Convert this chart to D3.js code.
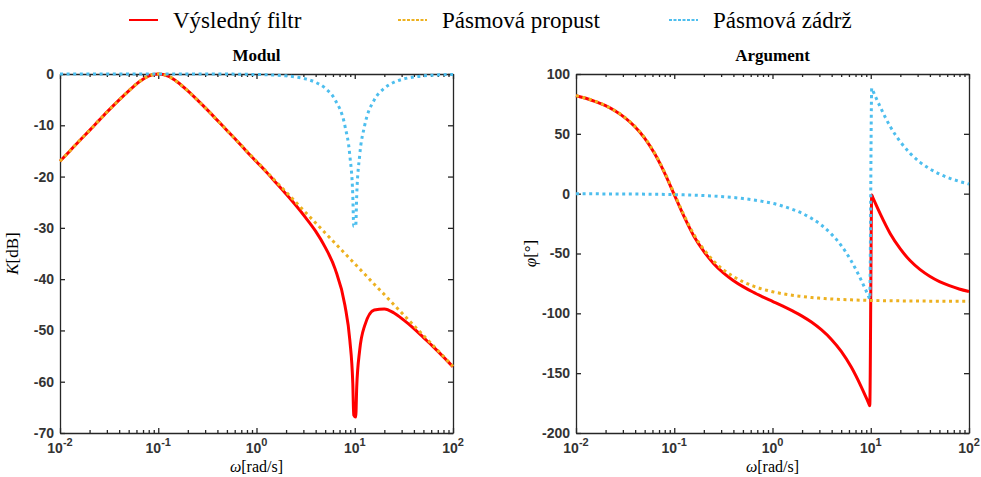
<!DOCTYPE html>
<html>
<head>
<meta charset="utf-8">
<script src="https://cdn.jsdelivr.net/npm/d3@7"></script>
<style>
  body { margin: 0; background: #fff; }
  svg { display: block; }
  .axis path, .axis line { stroke: #262626; stroke-width: 1.3; }
  .ticklab { font-family: "Liberation Sans", Arial, sans-serif; font-size: 14px; font-weight: bold; fill: #333; }
  .serif { font-family: "Liberation Serif", "Times New Roman", serif; fill: #000; }
</style>
</head>
<body>
<svg id="bode" width="981" height="477"></svg>
<script>
// frekvence [rad/s]
const omega = [0.01, 0.0126, 0.0158, 0.02, 0.0251, 0.0316, 0.0398, 0.0501, 0.0631, 0.0794,
  0.1, 0.126, 0.158, 0.2, 0.251, 0.316, 0.398, 0.501, 0.631, 0.794,
  1, 1.26, 1.58, 2, 2.51, 3.16, 3.98, 5.01, 6.31, 7.94,
  8.91, 9.55, 9.77, 10.23, 10.47, 11.22,
  12.6, 15.8, 20, 25.1, 31.6, 39.8, 50.1, 63.1, 79.4, 100];

// modul [dB]
const modVysledny = [-17.0, -15.0, -13.0, -11.0, -9.0, -7.0, -5.1, -3.3, -1.6, -0.4,
  0, -0.4, -1.6, -3.3, -5.1, -7.0, -9.0, -11.0, -13.0, -15.1,
  -17.1, -19.1, -21.2, -23.4, -25.6, -28.0, -30.6, -33.8, -38.0, -45.1,
  -51.9, -60.3, -66.5, -66.9, -61.1, -53.9,
  -49.1, -46.0, -45.8, -46.6, -48.0, -49.6, -51.4, -53.2, -55.1, -57.1];
const modPropust = [-17.0, -15.0, -13.0, -11.0, -9.0, -7.0, -5.1, -3.3, -1.6, -0.4,
  0, -0.4, -1.6, -3.3, -5.1, -7.0, -9.0, -11.0, -13.0, -15.0,
  -17.0, -19.0, -21.0, -23.0, -25.0, -27.0, -29.0, -31.0, -33.0, -35.0,
  -36.0, -36.6, -36.8, -37.2, -37.4, -38.0,
  -39.0, -41.0, -43.0, -45.0, -47.0, -49.0, -51.0, -53.0, -55.0, -57.0];
const modZadrz = [0, 0, 0, 0, 0, 0, 0, 0, 0, 0,
  0, 0, 0, 0, -0.01, -0.01, -0.01, -0.02, -0.03, -0.06,
  -0.09, -0.14, -0.22, -0.36, -0.58, -0.96, -1.61, -2.78, -5.05, -10.1,
  -15.9, -23.7, -29.7, -29.7, -23.7, -15.9,
  -10.1, -5.05, -2.78, -1.61, -0.96, -0.58, -0.36, -0.22, -0.14, -0.09];

// argument [deg]
const argVysledny = [81.8, 79.7, 76.9, 73.5, 69.0, 63.3, 55.9, 46.2, 33.5, 17.6,
  -0.8, -19.2, -35.3, -48.2, -58.3, -66.2, -72.5, -77.7, -82.2, -86.2,
  -90.0, -93.8, -97.8, -102.3, -107.5, -113.9, -121.8, -131.8, -144.7, -160.8,
  -169.8, -175.4, -177.3, -1.1, -3.0, -8.6,
  -17.6, -33.5, -46.2, -55.9, -63.3, -69.0, -73.5, -76.9, -79.7, -81.8];
const argPropust = [81.9, 79.8, 77.1, 73.6, 69.2, 63.6, 56.2, 46.6, 34.0, 18.2,
  0, -18.2, -34.0, -46.6, -56.2, -63.6, -69.2, -73.6, -77.1, -79.8,
  -81.9, -83.6, -84.9, -85.9, -86.8, -87.4, -88.0, -88.4, -88.7, -89.0,
  -89.1, -89.2, -89.2, -89.2, -89.2, -89.3,
  -89.4, -89.5, -89.6, -89.7, -89.7, -89.8, -89.8, -89.9, -89.9, -89.9];
const argZadrz = [-0.1, -0.1, -0.1, -0.2, -0.2, -0.3, -0.3, -0.4, -0.5, -0.6,
  -0.8, -1.0, -1.3, -1.6, -2.0, -2.6, -3.2, -4.1, -5.1, -6.5,
  -8.1, -10.3, -13.0, -16.4, -20.8, -26.4, -33.8, -43.4, -56.0, -71.8,
  -80.7, -86.3, -88.1, 88.1, 86.3, 80.7,
  71.8, 56.0, 43.4, 33.8, 26.4, 20.8, 16.4, 13.0, 10.3, 8.1];

const legendNames = ["Výsledný filtr", "Pásmová propust", "Pásmová zádrž"];
const xTicks = [0.01, 0.1, 1, 10, 100];
const xTickExp = ["-2", "-1", "0", "1", "2"];
const modTicks = [-70, -60, -50, -40, -30, -20, -10, 0];
const argTicks = [-200, -150, -100, -50, 0, 50, 100];

const styles = [
  {color: "#ff0000", dash: null},
  {color: "#EDB120", dash: "3,3.6"},
  {color: "#4DBEEE", dash: "3,3.6"}
];

const svg = d3.select("#bode");
const w = 393, h = 359, marginTop = 74;

const panels = [
  {left: 60, title: "Modul", domain: [-70, 0], ticks: modTicks,
   series: [modVysledny, modPropust, modZadrz], ylab: ["K", "[dB]"], ylabX: 18},
  {left: 576, title: "Argument", domain: [-200, 100], ticks: argTicks,
   series: [argVysledny, argPropust, argZadrz], ylab: ["φ", "[°]"], ylabX: 536}
];

panels.forEach(p => {
  const g = svg.append("g").attr("transform", `translate(${p.left},${marginTop})`);
  const x = d3.scaleLog().domain([0.01, 100]).range([0, w]);
  const y = d3.scaleLinear().domain(p.domain).range([h, 0]);

  // minor ticks
  const minor = [];
  [0.01, 0.1, 1, 10].forEach(dec => { for (let k = 2; k < 10; k++) minor.push(dec * k); });

  g.append("g").attr("class", "axis").attr("transform", `translate(0,${h})`)
    .call(d3.axisBottom(x).tickValues(xTicks).tickSizeInner(-5).tickSizeOuter(0).tickFormat(""));
  g.append("g").attr("class", "axis")
    .call(d3.axisTop(x).tickValues(xTicks).tickSizeInner(-5).tickSizeOuter(0).tickFormat(""));
  g.append("g").attr("class", "axis").attr("transform", `translate(0,${h})`)
    .call(d3.axisBottom(x).tickValues(minor).tickSizeInner(-3).tickSizeOuter(0).tickFormat(""))
    .select(".domain").remove();
  g.append("g").attr("class", "axis")
    .call(d3.axisTop(x).tickValues(minor).tickSizeInner(-3).tickSizeOuter(0).tickFormat(""))
    .select(".domain").remove();

  const yl = g.append("g").attr("class", "axis")
    .call(d3.axisLeft(y).tickValues(p.ticks).tickSizeInner(-5).tickSizeOuter(0).tickPadding(6)
      .tickFormat(d => String(d)));
  yl.selectAll("text").attr("class", "ticklab");
  yl.attr("font-family", null).attr("font-size", null);
  g.append("g").attr("class", "axis").attr("transform", `translate(${w},0)`)
    .call(d3.axisRight(y).tickValues(p.ticks).tickSizeInner(-5).tickSizeOuter(0).tickFormat(""));

  // x tick labels 10^n
  xTicks.forEach((v, i) => {
    const t = g.append("text").attr("class", "ticklab")
      .attr("x", x(v)).attr("y", h + 20).attr("text-anchor", "middle");
    t.append("tspan").text("10");
    t.append("tspan").attr("dy", -7).attr("font-size", 11).text(xTickExp[i]);
  });

  // curves
  const line = d3.line().x(d => x(d[0])).y(d => y(d[1])).curve(d3.curveMonotoneX);
  p.series.forEach((s, i) => {
    g.append("path")
      .datum(omega.map((o, k) => [o, s[k]]))
      .attr("fill", "none")
      .attr("stroke", styles[i].color)
      .attr("stroke-width", 3)
      .attr("stroke-dasharray", styles[i].dash)
      .attr("d", line);
  });

  g.append("text").attr("class", "serif")
    .attr("x", w / 2).attr("y", -13).attr("text-anchor", "middle")
    .attr("font-size", 17).attr("font-weight", "bold").text(p.title);

  const xl = g.append("text").attr("class", "serif")
    .attr("x", w / 2).attr("y", h + 39).attr("text-anchor", "middle").attr("font-size", 16);
  xl.append("tspan").attr("font-style", "italic").text("ω");
  xl.append("tspan").text("[rad/s]");

  const ylt = svg.append("text").attr("class", "serif")
    .attr("transform", `translate(${p.ylabX},${marginTop + h / 2}) rotate(-90)`)
    .attr("text-anchor", "middle").attr("font-size", 17);
  ylt.append("tspan").attr("font-style", "italic").text(p.ylab[0]);
  ylt.append("tspan").text(p.ylab[1]);
});

// legend
const legX = [129, 398, 669];
legendNames.forEach((name, i) => {
  svg.append("line")
    .attr("x1", legX[i]).attr("x2", legX[i] + 29)
    .attr("y1", 20).attr("y2", 20)
    .attr("stroke", styles[i].color).attr("stroke-width", 2)
    .attr("stroke-dasharray", styles[i].dash ? "3,1.5" : null);
  svg.append("text").attr("class", "serif")
    .attr("x", legX[i] + 44).attr("y", 28)
    .attr("font-size", 23).text(name);
});
</script>
</body>
</html>
